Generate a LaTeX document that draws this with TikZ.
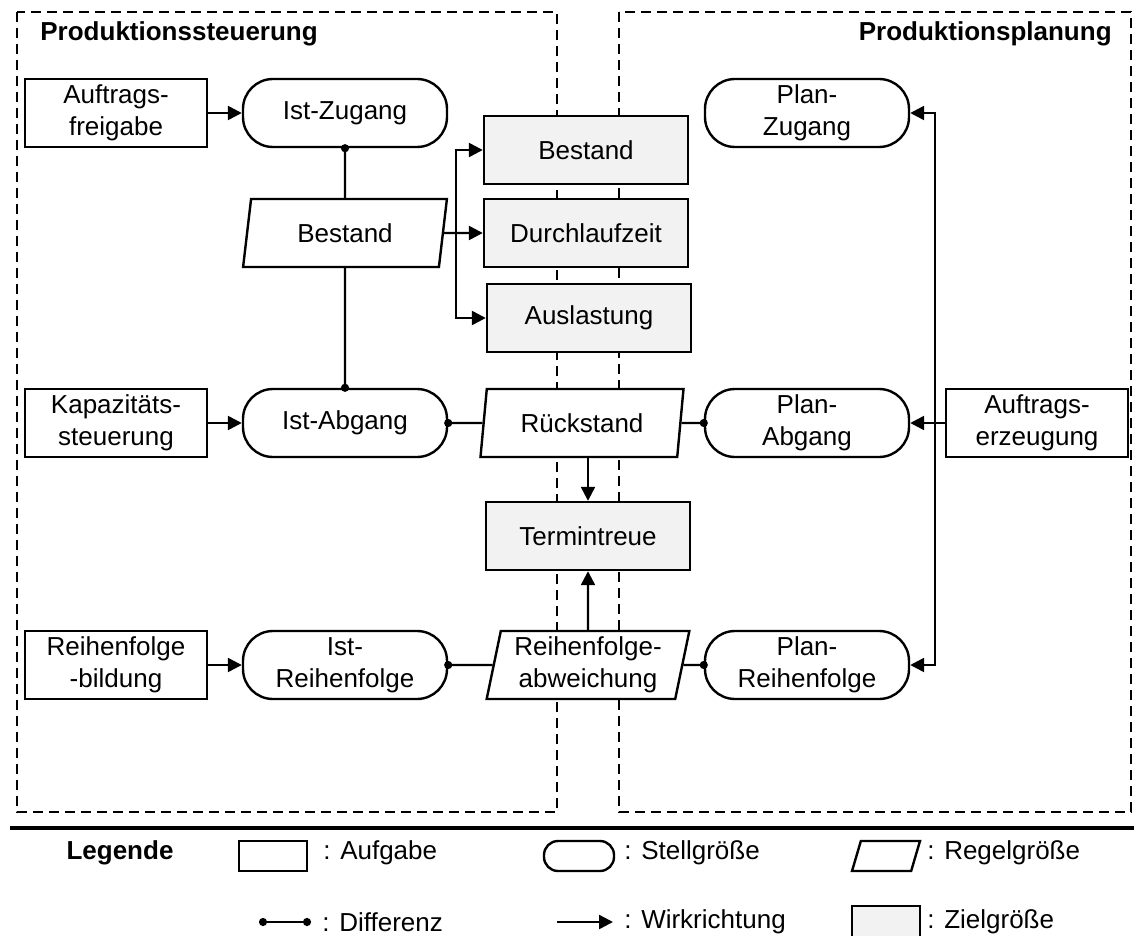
\documentclass[tikz,border=0pt]{standalone}
\usepackage{fontspec}
\setmainfont{Liberation Sans}
\usepackage{tikz}
\usetikzlibrary{arrows.meta,
shapes.geometric,
calc
}
\definecolor{zielgrau}{gray}{0.95}
\tikzset{>={Triangle[length=7pt,width=7pt]}}

\begin{document}
\begin{tikzpicture}[x=0.5pt, y=-0.5pt,
    every node/.style={font=\fontsize{13}{16}\selectfont, align=center, inner sep=0pt},
    aufgabe/.style={draw, line width=1.2pt, fill=white, minimum width=91pt, minimum height=34pt},
    stell/.style={draw, line width=1.2pt, fill=white, rounded corners=15pt, minimum width=102pt, minimum height=34pt},
    regel/.style={draw, line width=1.2pt, fill=white, trapezium, trapezium left angle=78,
                  trapezium right angle=102, trapezium stretches, minimum width=102pt, minimum height=34pt},
    ziel/.style={draw, line width=1.2pt, fill=zielgrau, minimum width=102pt, minimum height=34pt},
    bereich/.style={line width=1.1pt, dash pattern=on 5pt off 3pt},
    wirk/.style={line width=1.2pt, ->},
    diff/.style={line width=1.2pt, -{Circle[length=4pt]}, shorten >=-2pt},
    diffboth/.style={line width=1.2pt, {Circle[length=4pt]}-{Circle[length=4pt]}},
    titel/.style={font=\fontsize{13}{16}\selectfont\bfseries}
]
                    \useasboundingbox (0,0) rectangle (1134,936);

                    % Bereiche
                    \draw[bereich] (17,12) rectangle (557,812);
                    \draw[bereich] (619,12) rectangle (1131,812);
                    \node[titel, anchor=base west] (steuerung) at (40,41) {Produktionssteuerung};
                    \node[titel, anchor=base east] (planung) at (1112,41) {Produktionsplanung};

                    % Zugang
                    \node[aufgabe] (freigabe) at (116,113) {Auftrags-\\freigabe};
                    \node[stell] (istzu) at (345,113) {Ist-Zugang};
                    \node[stell] (planzu) at (807,113) {Plan-\\Zugang};

                    % Bestand
                    \node[regel] (rbestand) at (345,233) {Bestand};
                    \node[ziel] (zbestand) at (586,150) {Bestand};
                    \node[ziel] (zdlz) at (586,233) {Durchlaufzeit};
                    \node[ziel] (zauslastung) at (589,318) {Auslastung};

                    % Abgang
                    \node[aufgabe] (kapa) at (116,423) {Kapazitäts-\\steuerung};
                    \node[stell] (istab) at (345,423) {Ist-Abgang};
                    \node[regel] (rueck) at (582,423) {Rückstand};
                    \node[stell] (planab) at (807,423) {Plan-\\Abgang};
                    \node[aufgabe] (erzeugung) at (1037,423) {Auftrags-\\erzeugung};

                    \node[ziel] (termin) at (588,536) {Termintreue};

                    % Reihenfolge
                    \node[aufgabe] (rfbildung) at (116,665) {Reihenfolge\\-bildung};
                    \node[stell] (istrf) at (345,665) {Ist-\\Reihenfolge};
                    \node[regel] (rfabw) at (588,665) {Reihenfolge-\\abweichung};
                    \node[stell] (planrf) at (807,665) {Plan-\\Reihenfolge};

                    \draw[wirk] (freigabe) -- (istzu);
                    \draw[wirk] (kapa) -- (istab);
                    \draw[wirk] (rfbildung) -- (istrf);

                    \draw[diff] (rbestand) -- (istzu);
                    \draw[diff] (rbestand) -- (istab);
                    \draw[diff] (rueck) -- (istab);
                    \draw[diff] (rueck) -- (planab);
                    \draw[diff] (rfabw) -- (istrf);
                    \draw[diff] (rfabw) -- (planrf);

                    \coordinate (split) at (456,233);
                    \draw[wirk] (rbestand) -- (zdlz);
                    \draw[wirk] (split) |- (zbestand);
                    \draw[wirk] (split) |- (zauslastung);

                    \draw[wirk] (rueck.south -| termin.north) -- (termin);
                    \draw[wirk] (rfabw) -- (termin);

                    \coordinate (verteiler) at (935,423);
                    \draw[wirk] (erzeugung) -- (planab);
                    \draw[wirk] (verteiler) |- (planzu);
                    \draw[wirk] (verteiler) |- (planrf);

                    % Legende
                    \draw[line width=2pt] (10,828) -- (1134,828);
                    \node[titel] (legende) at (120,853) {Legende};
                    \node[aufgabe, minimum width=34pt, minimum height=15pt] (laufgabe) at (273,856) {};
                    \node[anchor=west] (taufgabe) at (323,853) {: Aufgabe};
                    \node[stell, minimum width=35pt, minimum height=15pt, rounded corners=7pt] (lstell) at (579,856) {};
                    \node[anchor=west] (tstell) at (624,853) {: Stellgröße};
                    \node[regel, minimum width=34pt, minimum height=15pt] (lregel) at (886,856) {\phantom{M}};
                    \node[anchor=west] (tregel) at (927,853) {: Regelgröße};

                    \coordinate (d1) at (259,922);
                    \coordinate (d2) at (311,922);
                    \draw[diffboth] (d1) -- (d2);
                    \node[anchor=west] (tdiff) at (322,922) {: Differenz};
                    \coordinate (w1) at (557,922);
                    \coordinate (w2) at (613,922);
                    \draw[wirk] (w1) -- (w2);
                    \node[anchor=west] (twirk) at (624,922) {: Wirkrichtung};
                    \node[ziel, minimum width=34pt, minimum height=16pt] (lziel) at (886,922) {};
                    \node[anchor=west] (tziel) at (927,922) {: Zielgröße};
\end{tikzpicture}
\end{document}
